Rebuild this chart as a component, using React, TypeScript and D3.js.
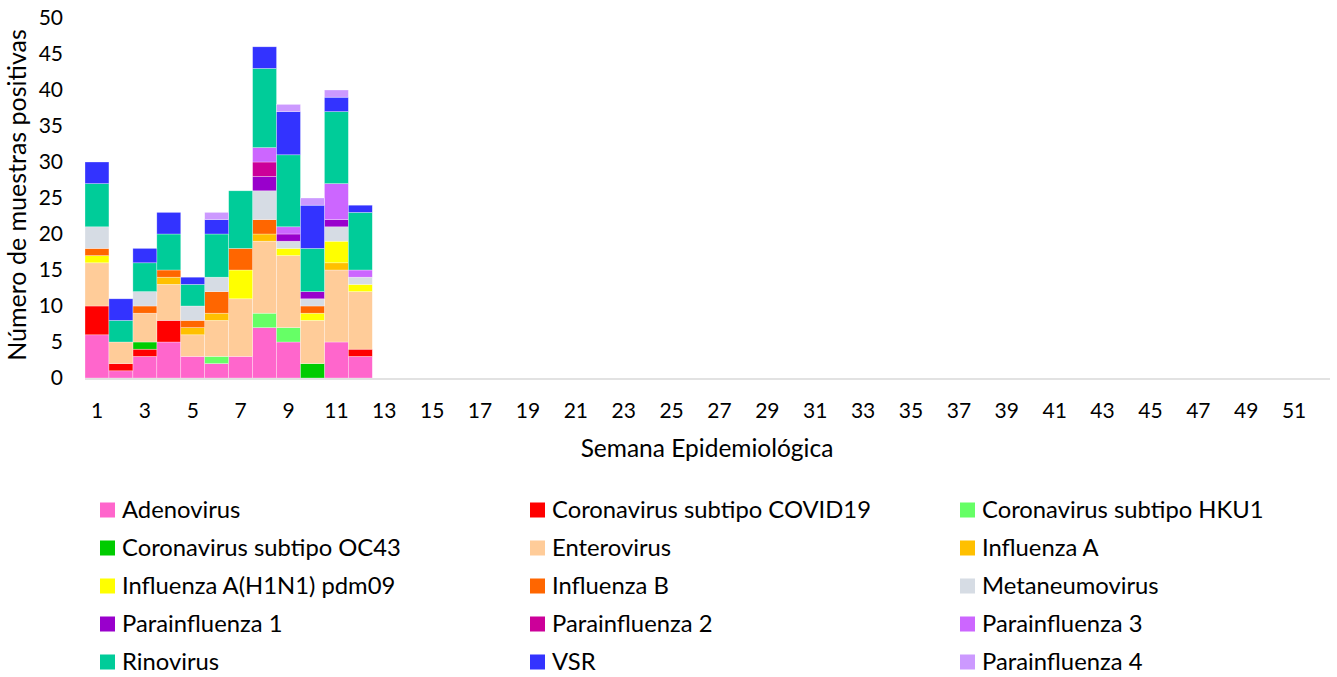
import React from "react";
import * as d3 from "d3";

const weeks: number[] = d3.range(1, 53);
const tickWeeks: number[] = d3.range(1, 53, 2);
const yTicks: number[] = [0, 5, 10, 15, 20, 25, 30, 35, 40, 45, 50];

const seriesNames: string[] = [
  "Adenovirus",
  "Coronavirus subtipo COVID19",
  "Coronavirus subtipo HKU1",
  "Coronavirus subtipo OC43",
  "Enterovirus",
  "Influenza A",
  "Influenza A(H1N1) pdm09",
  "Influenza B",
  "Metaneumovirus",
  "Parainfluenza 1",
  "Parainfluenza 2",
  "Parainfluenza 3",
  "Rinovirus",
  "VSR",
  "Parainfluenza 4",
];

const seriesColors: string[] = [
  "#FF66CC",
  "#FF0000",
  "#66FF66",
  "#00CC00",
  "#FFCC99",
  "#FFC000",
  "#FFFF00",
  "#FF6600",
  "#D6DCE4",
  "#9900CC",
  "#CC0099",
  "#CC66FF",
  "#00CC99",
  "#3333FF",
  "#CC99FF",
];

// values for weeks 1..12 (rest are zero)
const adenovirus = [6, 1, 3, 5, 3, 2, 3, 7, 5, 0, 5, 3];
const covid19 = [4, 1, 1, 3, 0, 0, 0, 0, 0, 0, 0, 1];
const hku1 = [0, 0, 0, 0, 0, 1, 0, 2, 2, 0, 0, 0];
const oc43 = [0, 0, 1, 0, 0, 0, 0, 0, 0, 2, 0, 0];
const enterovirus = [6, 3, 4, 5, 3, 5, 8, 10, 10, 6, 10, 8];
const influenzaA = [0, 0, 0, 1, 1, 1, 0, 1, 0, 0, 1, 0];
const h1n1 = [1, 0, 0, 0, 0, 0, 4, 0, 1, 1, 3, 1];
const influenzaB = [1, 0, 1, 1, 1, 3, 3, 2, 0, 1, 0, 0];
const metaneumovirus = [3, 0, 2, 0, 2, 2, 0, 4, 1, 1, 2, 1];
const parainfluenza1 = [0, 0, 0, 0, 0, 0, 0, 2, 1, 1, 1, 0];
const parainfluenza2 = [0, 0, 0, 0, 0, 0, 0, 2, 0, 0, 0, 0];
const parainfluenza3 = [0, 0, 0, 0, 0, 0, 0, 2, 1, 0, 5, 1];
const rinovirus = [6, 3, 4, 5, 3, 6, 8, 11, 10, 6, 10, 8];
const vsr = [3, 3, 2, 3, 1, 2, 0, 3, 6, 6, 2, 1];
const parainfluenza4 = [0, 0, 0, 0, 0, 1, 0, 0, 1, 1, 1, 0];

const seriesValues: number[][] = [
  adenovirus,
  covid19,
  hku1,
  oc43,
  enterovirus,
  influenzaA,
  h1n1,
  influenzaB,
  metaneumovirus,
  parainfluenza1,
  parainfluenza2,
  parainfluenza3,
  rinovirus,
  vsr,
  parainfluenza4,
];

const FONT = "Lato, 'Open Sans', sans-serif";

export default function App() {
  const width = 1337;
  const height = 677;
  const left = 85;
  const right = 1330;
  const top = 18;
  const bottom = 378;

  const x = d3.scaleBand<number>().domain(weeks).range([left, right]).padding(0);
  const y = d3.scaleLinear().domain([0, 50]).range([bottom, top]);

  const table = weeks.map((w, i) => {
    const row: Record<string, number> = { week: w };
    seriesNames.forEach((name, s) => {
      row[name] = seriesValues[s][i] ?? 0;
    });
    return row;
  });
  const stacked = d3.stack<Record<string, number>>().keys(seriesNames)(table);

  const legendCols = [100, 530, 960];
  const legendRows = [510, 548, 586, 624, 662];

  return (
    <svg
      width={width}
      height={height}
      style={{ position: "absolute", left: 0, top: 0, background: "#fff" }}
      fontFamily={FONT}
    >
      {/* bars */}
      {stacked.map((layer, s) => (
        <g key={seriesNames[s]} fill={seriesColors[s]}>
          {layer.map((d, i) => {
            const h = y(d[0]) - y(d[1]);
            if (h <= 0) return null;
            return (
              <rect
                key={i}
                x={x(weeks[i])!}
                y={y(d[1])}
                width={x.bandwidth()}
                height={h}
                stroke="#ffffff"
                strokeOpacity={0.5}
                strokeWidth={0.6}
              />
            );
          })}
        </g>
      ))}

      {/* x axis line */}
      <line x1={left} x2={right} y1={y(0) + 1} y2={y(0) + 1} stroke="#D9D9D9" strokeWidth={1.5} />

      {/* y tick labels */}
      {yTicks.map((t) => (
        <text
          key={t}
          x={63}
          y={y(t)}
          dy="0.35em"
          textAnchor="end"
          fontSize={21}
          fill="#000"
        >
          {t}
        </text>
      ))}

      {/* x tick labels */}
      {tickWeeks.map((w) => (
        <text
          key={w}
          x={x(w)! + x.bandwidth() / 2}
          y={418}
          textAnchor="middle"
          fontSize={21}
          fill="#000"
        >
          {w}
        </text>
      ))}

      {/* axis titles */}
      <text x={707} y={457} textAnchor="middle" fontSize={24.5} fill="#000">
        Semana Epidemiológica
      </text>
      <text
        transform={`translate(26, 195) rotate(-90)`}
        textAnchor="middle"
        fontSize={25}
        fill="#000"
      >
        Número de muestras positivas
      </text>

      {/* legend */}
      {seriesNames.map((name, i) => {
        const col = i % 3;
        const row = Math.floor(i / 3);
        const lx = legendCols[col];
        const ly = legendRows[row];
        return (
          <g key={name}>
            <rect x={lx} y={ly - 7.5} width={15} height={15} fill={seriesColors[i]} />
            <text x={lx + 22} y={ly} dy="0.35em" fontSize={23.8} fill="#000">
              {name}
            </text>
          </g>
        );
      })}
    </svg>
  );
}
